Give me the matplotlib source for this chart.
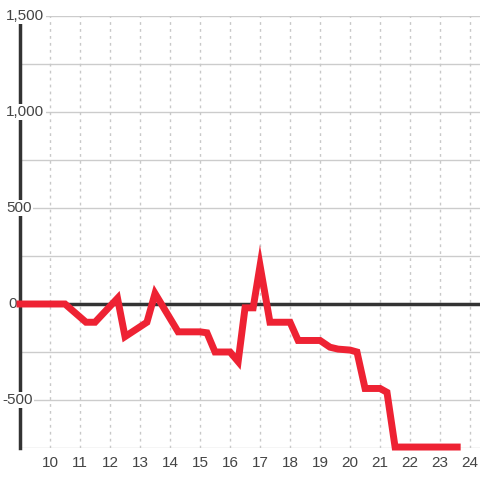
import matplotlib
matplotlib.use("Agg")
import matplotlib.pyplot as plt
import matplotlib.transforms as mtransforms

x_vals = [9.0, 10.5, 11.2, 11.5, 12.25, 12.5, 13.23, 13.5, 14.27, 15.0, 15.23, 15.5,
          16.0, 16.27, 16.5, 16.77, 17.0, 17.33, 18.0, 18.27, 19.0, 19.33, 19.6,
          20.0, 20.23, 20.5, 21.0, 21.23, 21.5, 23.57]
y_vals = [0, 0, -95, -95, 30, -170, -95, 55, -145, -145, -150, -250,
          -250, -300, -20, -20, 200, -95, -95, -190, -190, -225, -235,
          -240, -250, -440, -440, -460, -745, -745]
x_ticks = list(range(10, 25))
y_label_ticks = [-500, 0, 500, 1000, 1500]
y_grid_ticks = [-750, -500, -250, 250, 500, 750, 1000, 1250, 1500]

plt.rcParams['font.family'] = ['Liberation Sans', 'DejaVu Sans']
fig = plt.figure(figsize=(4.8, 4.8), dpi=100, facecolor='white')
ax = fig.add_axes([20/480, 32/480, 460/480, 432/480])
ax.set_facecolor('white')
ax.set_xlim(9.0, 24.33)
ax.set_ylim(-750, 1500)

for g in y_grid_ticks:
    ax.axhline(g, color='#cccccc', lw=1, zorder=1)
for t in x_ticks:
    ax.axvline(t, color='#c8c8c8', lw=1, ls=(0, (2, 3)), zorder=1)
ax.axhline(0, color='#333333', lw=2.5, zorder=2)

ax.plot(x_vals, y_vals, color='#ee2233', lw=5, solid_joinstyle='miter',
        solid_capstyle='projecting', zorder=7, clip_on=False)

for s in ['top', 'right', 'bottom']:
    ax.spines[s].set_visible(False)
ax.spines['left'].set_color('#333333')
ax.spines['left'].set_linewidth(2.5)
ax.spines['left'].set_zorder(4)

ax.set_xticks(x_ticks)
ax.set_xticklabels([str(t) for t in x_ticks], fontsize=11, color='#444444')
ax.tick_params(axis='x', length=0, pad=6)
ax.set_yticks([])
trans = mtransforms.blended_transform_factory(fig.transFigure, ax.transData)
for v in y_label_ticks:
    xpos = (2 if v < 0 else (8 if v == 0 else 6)) / 480
    ax.text(xpos, v, f"{v:,}", transform=trans,
            ha='left', va='center', fontsize=11, color='#444444', zorder=5,
            bbox=dict(facecolor='white', edgecolor='none', pad=1.0), clip_on=False)

fig.savefig('out.png', dpi=100, facecolor='white')
